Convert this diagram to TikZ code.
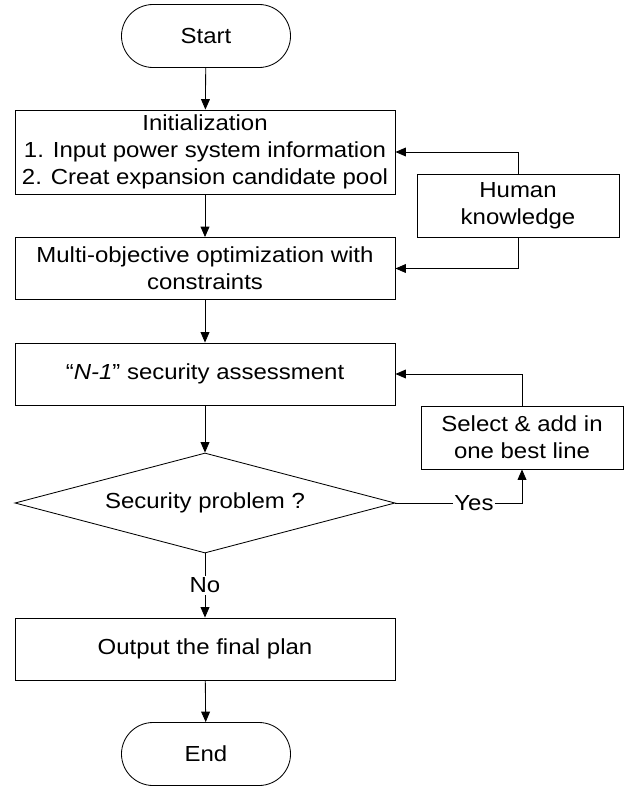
\documentclass[tikz,border=0pt]{standalone}
\usepackage{fontspec}
\setmainfont{Liberation Sans}[FakeStretch=1.1]
\usepackage{tikz}
\usetikzlibrary{shapes.geometric,arrows.meta}

\begin{document}
\begin{tikzpicture}[
        x=0.025cm, y=-0.025cm,
        font=\fontsize{15.5}{19}\selectfont,
        box/.style = {draw, rectangle, line width=0.6pt, align=center, minimum width=9.5cm, minimum height=1.55cm, inner sep=0pt},
        sidebox/.style = {draw, rectangle, line width=0.6pt, align=center, minimum width=5.05cm, minimum height=1.575cm, inner sep=0pt},
        terminal/.style = {draw, rectangle, rounded corners=0.79cm, line width=0.6pt, minimum width=4.225cm, minimum height=1.575cm},
        decision/.style = {draw, diamond, aspect=3.8, line width=0.6pt, minimum width=9.5cm, minimum height=2.5cm, inner sep=0pt},
        arrow/.style = {-{Triangle[length=0.26cm,width=0.22cm]}, line width=0.6pt}
    ]
    \useasboundingbox (0,0) rectangle (642,787);

    % Start and End
    \node[terminal] (start) at (206,36) {Start};
    \node[terminal] (end) at (206,754) {End};

    % Main column of steps
    \node[box, minimum height=2.1cm] (init) at (205,152) {Initialization\\1. Input power system information\\2. Creat expansion candidate pool};
    \node[box] (multi) at (205,268.5) {Multi-objective optimization with\\constraints};
    \node[box] (nsec) at (205,374) {``\textit{N-1}'' security assessment};
    \node[decision] (problem) at (205,503) {Security problem ?};
    \node[box] (output) at (205,649) {Output the final plan};

    % Side boxes
    \node[sidebox] (human) at (518,205.5) {Human\\knowledge};
    \node[sidebox] (select) at (522,437.5) {Select \& add in\\one best line};

    % Main flow
    \draw[arrow] (start) -- (init);
    \draw[arrow] (init) -- (multi);
    \draw[arrow] (multi) -- (nsec);
    \draw[arrow] (nsec) -- (problem);
    \draw[arrow] (problem) -- node[fill=white, inner sep=1pt] {No} (output);
    \draw[arrow] (output) -- (end);

    % Feedback loops
    \draw[arrow] (human.north) |- (init.east);
    \draw[arrow] (human.south) |- (multi.east);
    \draw[arrow] (problem.east) -| node[pos=0.31, fill=white, inner sep=1pt] {Yes} (select.south);
    \draw[arrow] (select.north) |- (nsec.east);

\end{tikzpicture}
\end{document}
